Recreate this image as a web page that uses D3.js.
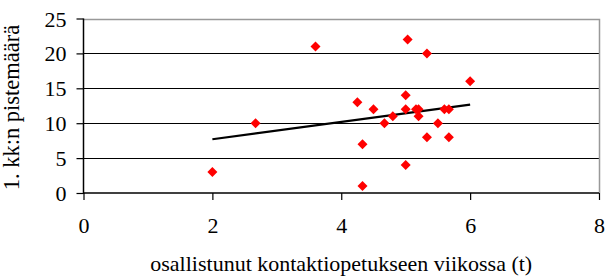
<!DOCTYPE html>
<html><head><meta charset="utf-8">
<script src="https://cdn.jsdelivr.net/npm/d3@7"></script>
<style>body{margin:0;background:#fff}svg{display:block}svg text{font-family:"Liberation Serif",serif}</style>
</head><body>
<svg id="c" width="616" height="276"></svg>
<script>
const xValues = [2, 2.67, 3.6, 4.25, 4.33, 4.33, 4.5, 4.67, 4.8, 5, 5, 5, 5.03, 5.16, 5.2, 5.2, 5.33, 5.33, 5.5, 5.6, 5.67, 5.67, 6];
const yValues = [3, 10, 21, 13, 7, 1, 12, 10, 11, 14, 12, 4, 22, 12, 12, 11, 20, 8, 10, 12, 12, 8, 16];
const trendX = [2, 6];
const trendY = [7.7, 12.65];
const xTicks = [0, 2, 4, 6, 8];
const yTicks = [0, 5, 10, 15, 20, 25];
const xTitle = "osallistunut kontaktiopetukseen viikossa (t)";
const yTitle = "1. kk:n pistemäärä";

const svg = d3.select("#c");
const L = 83.5, R = 599, T = 18.5, B = 193;
const x = d3.scaleLinear().domain([0, 8]).range([L, R]);
const y = d3.scaleLinear().domain([0, 25]).range([B, T]);
const font = '"Liberation Serif", serif';

// gridlines
svg.append("g").selectAll("line").data(yTicks.filter(d => d > 0 && d < 25)).join("line")
  .attr("x1", L).attr("x2", R).attr("y1", d => Math.round(y(d)) + 0.5).attr("y2", d => Math.round(y(d)) + 0.5)
  .attr("stroke", "#000").attr("stroke-width", 1);
// top and right border (gray)
svg.append("path")
  .attr("d", `M${L},${Math.round(y(25)) + 0.5}H${Math.round(R) + 0.5}V${B}`)
  .attr("fill", "none").attr("stroke", "#999").attr("stroke-width", 1.5);

// axes
const xAxis = d3.axisBottom(x).tickValues(xTicks).tickSize(7).tickFormat(d3.format("d"));
const gx = svg.append("g").attr("transform", `translate(0,${B})`).call(xAxis);
gx.attr("font-family", font).attr("font-size", 22);
gx.select(".domain").attr("stroke", "#000").attr("stroke-width", 1.5).attr("d", `M${L},0H${R}`);
gx.selectAll(".tick line").attr("stroke", "#000").attr("stroke-width", 1.2);
gx.selectAll("text").attr("font-family", font).style("font-family", font).style("font-size", "22px").attr("fill", "#000")
  .attr("y", 40).attr("dy", null);

const yAxis = d3.axisLeft(y).tickValues(yTicks).tickSize(7).tickPadding(10).tickFormat(d3.format("d"));
const gy = svg.append("g").attr("transform", `translate(${L},0)`).call(yAxis);
gy.attr("font-family", font).attr("font-size", 22);
gy.select(".domain").attr("stroke", "#000").attr("stroke-width", 1.5).attr("d", `M0,${T}V${B + 1}`);
gy.selectAll(".tick line").attr("stroke", "#000").attr("stroke-width", 1.2);
gy.selectAll("text").attr("font-family", font).style("font-family", font).style("font-size", "22px").attr("fill", "#000")
  .attr("dy", null).attr("y", 7.5);

// trend line
svg.append("line")
  .attr("x1", x(trendX[0])).attr("y1", y(trendY[0]))
  .attr("x2", x(trendX[1])).attr("y2", y(trendY[1]))
  .attr("stroke", "#000").attr("stroke-width", 2.2);

// points
const pts = xValues.map((v, i) => [v, yValues[i]]);
const s = 5;
svg.append("g").selectAll("path").data(pts).join("path")
  .attr("d", d => `M${x(d[0])},${y(d[1]) - s}L${x(d[0]) + s},${y(d[1])}L${x(d[0])},${y(d[1]) + s}L${x(d[0]) - s},${y(d[1])}Z`)
  .attr("fill", "#ff0000");

// titles
svg.append("text").attr("x", (L + R) / 2).attr("y", 271)
  .attr("text-anchor", "middle").style("font-family", font).style("font-size", "22px").text(xTitle);
svg.append("text").attr("transform", `translate(19,107.5) rotate(-90)`)
  .attr("text-anchor", "middle").style("font-family", font).style("font-size", "22.5px").text(yTitle);
</script>
</body></html>
